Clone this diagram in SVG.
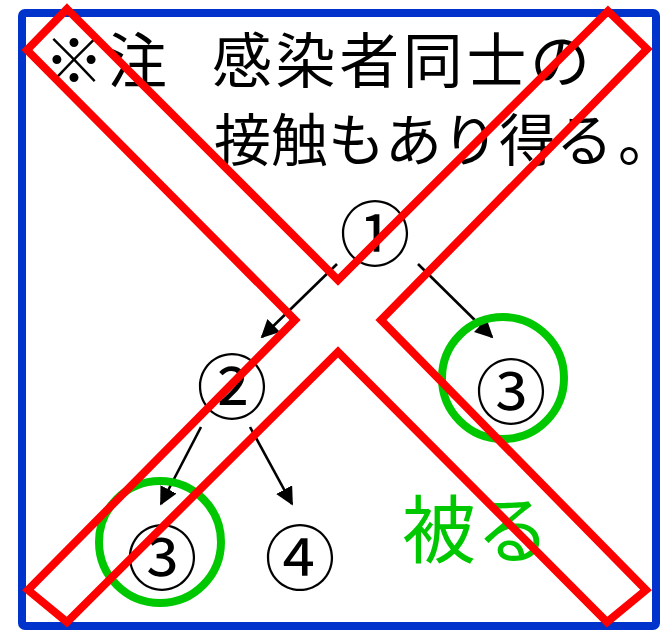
<svg xmlns="http://www.w3.org/2000/svg" width="660" height="634" viewBox="0 0 660 634">
<style>
.t{font-family:"Noto Sans CJK JP","Noto Sans CJK SC",sans-serif;fill:#000}
.n{font-family:"Noto Sans CJK JP","Noto Sans CJK SC",sans-serif;font-size:71px;fill:#000;text-anchor:middle;dominant-baseline:central}
.arr{stroke:#000;stroke-width:2.6;fill:none;marker-end:url(#ah)}
.g{fill:none;stroke:#00c800;stroke-width:8}
.halt{font-feature-settings:"halt" 1}
</style>
<defs>
<marker id="ah" viewBox="0 0 10 10" refX="9" refY="5" markerWidth="7" markerHeight="7" markerUnits="strokeWidth" orient="auto">
<path d="M0,0 L10,5 L0,10 z" fill="#000"/>
</marker>
</defs>
<rect x="22" y="13" width="634" height="613" rx="3" fill="#fff" stroke="#0033cc" stroke-width="8"/>
<g id="note">
<text class="t" font-size="60" x="44 107" y="83">※注</text>
<text class="t" font-size="60" x="212 275.6 339.2 402.8 466.4 530" y="83">感染者同士の</text>
<text class="t" font-size="57" y="161"><tspan x="214 271 328 385 442 499 556">接触もあり得る</tspan><tspan class="halt" x="618">。</tspan></text>
</g>
<g id="connectors">
<line class="arr" x1="337" y1="264" x2="262" y2="337"/>
<line class="arr" x1="418" y1="264" x2="492" y2="337"/>
<line class="arr" x1="201" y1="427" x2="161" y2="504"/>
<line class="arr" x1="250" y1="427" x2="292" y2="504"/>
</g>
<g id="n1"><text class="n" x="375" y="229">①</text></g>
<g id="n2"><text class="n" x="232" y="382">②</text></g>
<g id="n3a"><circle class="g" cx="503" cy="378" r="61"/><text class="n" x="511" y="387">③</text></g>
<g id="n3b"><circle class="g" cx="160" cy="542" r="61"/><text class="n" x="162" y="553">③</text></g>
<g id="n4"><text class="n" x="300" y="553">④</text></g>
<g id="label"><text class="t" font-size="74" x="402" y="557" style="fill:#00c800">被る</text></g>
<g id="cross">
<polygon points="67,9 338,280 608,11 647,49 381,320 646,590 607,622 338,352 67,622 28,590 295,320 27,50" fill="none" stroke="#ff0000" stroke-width="8" stroke-linejoin="miter"/>
</g>
</svg>
